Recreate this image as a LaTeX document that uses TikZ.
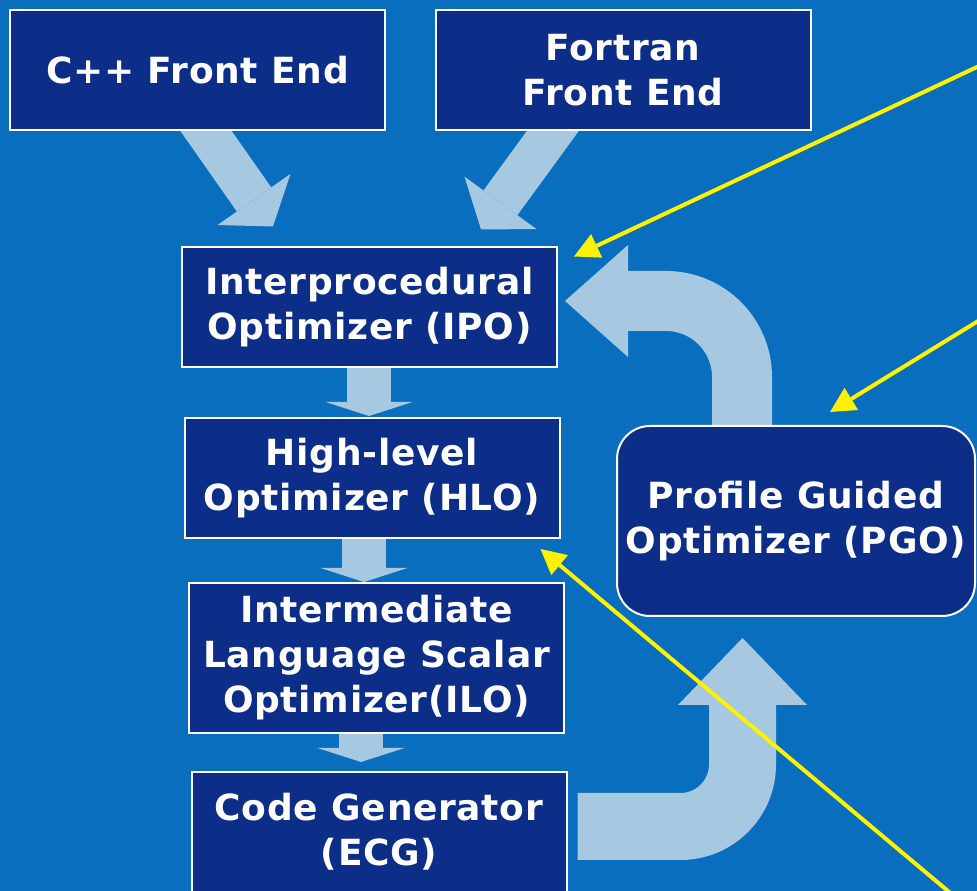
\documentclass[tikz,border=0pt]{standalone}
\usepackage{fontspec}
\setmainfont[LetterSpace=2]{DejaVu Sans}
\usetikzlibrary{arrows.meta,calc}

\definecolor{slidebg}{HTML}{0A6EBE}
\definecolor{boxnavy}{HTML}{0C2D88}
\definecolor{flowblue}{HTML}{A6C8E0}

\pgfdeclarelayer{back}
\pgfsetlayers{back,main}

\begin{document}
\begin{tikzpicture}[
        x=1pt, y=1pt,
        stage/.style={draw=white, line width=2pt, fill=boxnavy, text=white,
            font=\fontsize{36}{45}\selectfont\bfseries, align=center,
            inner sep=2pt, minimum width=375pt, minimum height=120pt},
        flow/.style={draw=flowblue, line width=42pt},
        pointer/.style={draw=yellow, line width=4pt,
            -{Triangle[length=25pt, width=26pt, line width=0pt]}}
    ]
        \useasboundingbox (0,0) rectangle (977,891);
        \begin{pgfonlayer}{back}
            \fill[slidebg] (0,0) rectangle (977,891);
        \end{pgfonlayer}
        \clip (0,0) rectangle (977,891);

        % Compiler stages
        \node[stage] (cpp) at (197.5,821) {C++ Front End};
        \node[stage] (fortran) at (623,821) {Fortran\\Front End};
        \node[stage] (ipo) at (369.5,583.5) {Interprocedural\\Optimizer (IPO)};
        \node[stage] (hlo) at (372,413) {High-level\\Optimizer (HLO)};
        \node[stage, minimum height=150pt] (ilo) at (376.5,233) {Intermediate\\Language Scalar\\Optimizer(ILO)};
        \node[stage] (ecg) at (379,59) {Code Generator\\(ECG)};
        \node[stage, rounded corners=33pt, minimum width=358pt, minimum height=190pt] (pgo) at (796,370) {Profile Guided\\Optimizer (PGO)};

        % Big arrows behind the boxes
        \begin{pgfonlayer}{back}
            \draw[flow, -{Triangle[length=33pt, width=89pt, line width=0pt]}] ($(cpp.south)+(-2,15)$) -- ($(ipo.north)+(-96.5,20)$);
            \draw[flow, -{Triangle[length=33pt, width=89pt, line width=0pt]}] ($(fortran.south)+(-60,14)$) -- ($(ipo.north)+(111.5,17)$);
            \draw[flow, line width=44pt, -{Triangle[length=14pt, width=87pt, line width=0pt]}] ($(ipo.south)+(-0.5,2)$) -- ($(hlo.north)+(-3,1)$);
            \draw[flow, line width=44pt, -{Triangle[length=14pt, width=87pt, line width=0pt]}] ($(hlo.south)+(-8,2)$) -- ($(ilo.north)+(-12.5,0)$);
            \draw[flow, line width=44pt, -{Triangle[length=14pt, width=87pt, line width=0pt]}] ($(ilo.south)+(-15.5,2)$) -- ($(ecg.north)+(-18,9)$);
            % feedback loop through PGO
            \draw[flow, line width=67pt, rounded corners=62pt, -{Triangle[length=67pt, width=129pt, line width=0pt]}] ($(ecg.east)+(10,5.5)$) -| ($(pgo.south)+(-53.5,-21)$);
            \draw[flow, line width=60pt, rounded corners=76pt, -{Triangle[length=63pt, width=112pt, line width=0pt]}] ($(pgo.north)+(-54,-15)$) |- ($(ipo.east)+(7,6.5)$);
        \end{pgfonlayer}

        % Yellow pointers coming in from the right
        \coordinate (callout1) at (1010,839.5);
        \coordinate (callout2) at (1010,589.5);
        \coordinate (callout3) at (970,-18.5);
        \draw[pointer] (callout1) -- ($(ipo.north east)+(16,-10)$);
        \draw[pointer] (callout2) -- ($(pgo.north)+(34,13)$);
        \draw[pointer] (callout3) -- ($(hlo.south east)+(-20,-10)$);
\end{tikzpicture}
\end{document}
